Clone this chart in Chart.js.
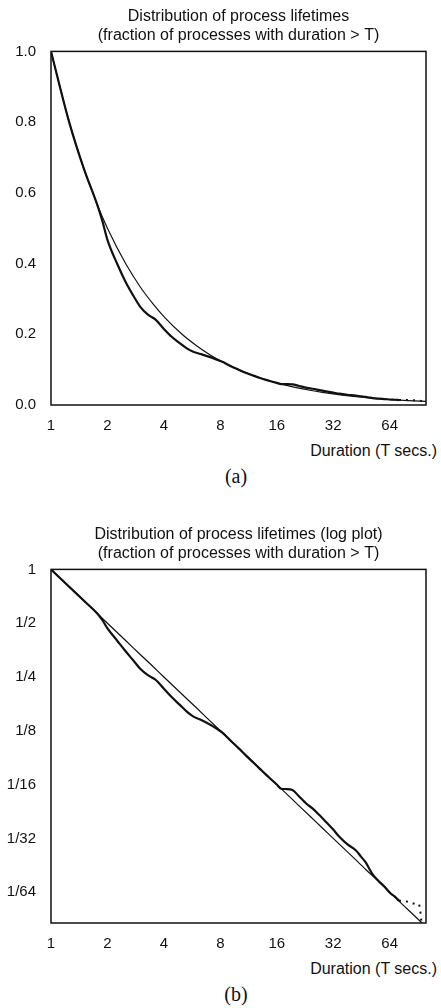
<!DOCTYPE html>
<html>
<head>
<meta charset="utf-8">
<script src="https://cdn.jsdelivr.net/npm/chart.js@4.4.1/dist/chart.umd.min.js"></script>
<style>
  body { margin: 0; background: #fff; width: 441px; height: 1008px; position: relative; overflow: hidden;
         font-family: "Liberation Sans", Arial, sans-serif; color: #111; }
  .panel { position: absolute; left: 0; width: 441px; height: 500px; }
  .panel canvas { position: absolute; left: 0; top: 0; }
  .xcap { position: absolute; right: 4px; top: 442px; font-size: 16px; line-height: 18px; }
  .tag { position: absolute; left: 186px; width: 100px; top: 465px; text-align: center;
         font: 20px "Liberation Serif", serif; line-height: 22px; }
</style>
</head>
<body>
<div class="panel" style="top:0">
  <canvas id="linChart" width="441" height="440"></canvas>
  <div class="xcap">Duration (T secs.)</div>
  <div class="tag">(a)</div>
</div>
<div class="panel" style="top:518px">
  <canvas id="logChart" width="441" height="440"></canvas>
  <div class="xcap">Duration (T secs.)</div>
  <div class="tag">(b)</div>
</div>
<script>
// Axis ticks
const xTicks = [1, 2, 4, 8, 16, 32, 64];
const xTickLabels = ['1', '2', '4', '8', '16', '32', '64'];
const yLinTicks = [0, 0.2, 0.4, 0.6, 0.8, 1.0];
const yLinLabels = ['0.0', '0.2', '0.4', '0.6', '0.8', '1.0'];
const yLogTicks = [1, 0.5, 0.25, 0.125, 0.0625, 0.03125, 0.015625];
const yLogLabels = ['1', '1/2', '1/4', '1/8', '1/16', '1/32', '1/64'];

// 1/T reference curve
const fitT = [1, 1.25, 1.5, 1.75, 2, 2.5, 3, 3.5, 4, 5, 6, 7, 8, 10, 12, 14, 16, 20, 24, 28, 32, 40, 48, 56, 64, 80, 100];
const fitFrac = [1, 0.8, 0.667, 0.571, 0.5, 0.4, 0.333, 0.286, 0.25, 0.2, 0.167, 0.143, 0.125, 0.1, 0.0833, 0.0714,
                 0.0625, 0.05, 0.0417, 0.0357, 0.03125, 0.025, 0.0208, 0.0179, 0.0156, 0.0125, 0.01];

// measured fraction of processes with duration > T
const obsT = [1, 1.25, 1.5, 1.76, 1.88, 2, 2.25, 2.5, 2.75, 3, 3.3, 3.6, 4, 4.4, 4.85, 5.3, 5.7, 6.2, 7, 7.6, 8.2,
              9, 10, 11, 12, 13, 14, 15, 16, 16.9, 18, 19.4, 21, 22.5, 23.2, 24.8, 27, 29.3, 32, 34.4, 38,
              42.2, 45, 47.7, 50, 51.8, 56, 60, 65, 68, 71.8];
const obsFrac = [1, 0.8, 0.667, 0.568, 0.52, 0.467, 0.40, 0.348, 0.309, 0.277, 0.255, 0.242, 0.215, 0.193, 0.175, 0.160,
                 0.151, 0.145, 0.136, 0.129, 0.122, 0.111, 0.100, 0.0905, 0.083, 0.0765, 0.071, 0.0665, 0.0625,
                 0.0592, 0.0590, 0.0582, 0.0538, 0.050, 0.0485, 0.046, 0.0422, 0.0386, 0.035, 0.032, 0.029,
                 0.0268, 0.0247, 0.0229, 0.021, 0.0197, 0.018, 0.0168, 0.0153, 0.0148, 0.014];
// sparse tail, drawn dotted
const tailT = [71.8, 75, 80, 85, 90, 92, 94, 95];
const tailFrac = [0.014, 0.014, 0.0138, 0.0135, 0.0135, 0.0133, 0.0115, 0.0095];

const pts = (xs, ys) => xs.map((x, i) => ({ x: x, y: ys[i] }));
const sans = "'Liberation Sans', Arial, sans-serif";

// box round the plot area
const frame = {
  id: 'frame',
  afterDatasetsDraw(chart) {
    const { ctx, chartArea: a } = chart;
    ctx.save();
    ctx.strokeStyle = '#111';
    ctx.lineWidth = 1.5;
    ctx.strokeRect(a.left, a.top, a.right - a.left, a.bottom - a.top);
    ctx.restore();
  }
};

function makeChart(id, titleLines, yScale) {
  return new Chart(document.getElementById(id), {
    type: 'line',
    data: {
      datasets: [
        { data: pts(fitT, fitFrac), borderColor: '#111', borderWidth: 1.2, pointRadius: 0, cubicInterpolationMode: 'monotone' },
        { data: pts(obsT, obsFrac), borderColor: '#111', borderWidth: 2.2, pointRadius: 0, cubicInterpolationMode: 'monotone' },
        { data: pts(tailT, tailFrac), borderColor: '#111', borderWidth: 2, borderDash: [2, 5], pointRadius: 0 }
      ]
    },
    options: {
      responsive: false,
      animation: false,
      layout: { padding: { right: 15 } },
      plugins: {
        legend: { display: false },
        tooltip: { enabled: false },
        title: {
          display: true,
          text: titleLines,
          fullSize: false,
          color: '#111',
          font: { family: sans, size: 16, weight: 'normal', lineHeight: 1.2 },
          padding: { top: 7, bottom: 6 }
        }
      },
      scales: {
        x: {
          type: 'logarithmic',
          min: 1,
          max: 100,
          grid: { display: false, drawTicks: false },
          border: { display: false },
          afterBuildTicks: s => { s.ticks = xTicks.map(v => ({ value: v })); },
          afterFit: s => { s.height = 35; },
          ticks: {
            autoSkip: false, maxRotation: 0, padding: 12, color: '#111',
            font: { family: sans, size: 15 },
            callback: (v, i) => xTickLabels[i]
          }
        },
        y: yScale
      }
    },
    plugins: [frame]
  });
}

const yCommon = {
  grid: { display: false, drawTicks: false },
  border: { display: false },
  afterFit: s => { s.width = 51; }
};

makeChart('linChart', ['Distribution of process lifetimes', '(fraction of processes with duration > T)'],
  Object.assign({}, yCommon, {
    type: 'linear', min: 0, max: 1,
    afterBuildTicks: s => { s.ticks = yLinTicks.map(v => ({ value: v })); },
    ticks: { autoSkip: false, padding: 15, color: '#111', font: { family: sans, size: 15 },
             callback: (v, i) => yLinLabels[i] }
  }));

makeChart('logChart', ['Distribution of process lifetimes (log plot)', '(fraction of processes with duration > T)'],
  Object.assign({}, yCommon, {
    type: 'logarithmic', min: 0.0105, max: 1,
    afterBuildTicks: s => { s.ticks = yLogTicks.map(v => ({ value: v })); },
    ticks: { autoSkip: false, padding: 15, color: '#111', font: { family: sans, size: 15 },
             callback: (v, i) => yLogLabels[i] }
  }));
</script>
</body>
</html>
